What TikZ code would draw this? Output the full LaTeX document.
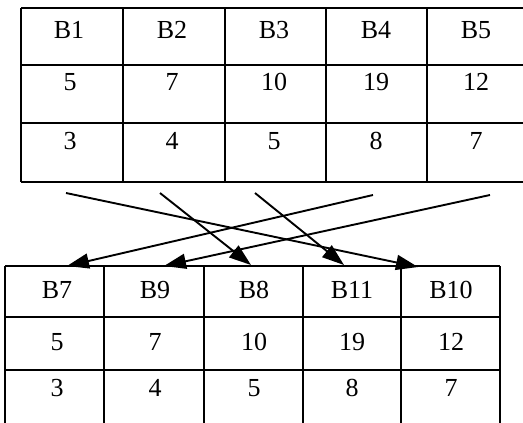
\documentclass[tikz,border=0pt]{standalone}
\usepackage{fontspec}
\setmainfont{Liberation Serif}
\usetikzlibrary{arrows.meta}
\begin{document}
\begin{tikzpicture}[x=1pt,y=-1pt,
  grid/.style={line width=1.3pt,black},
  cell/.style={font=\fontsize{26}{26}\selectfont,inner sep=0pt,anchor=center},
  arr/.style={line width=1.9pt,-{Triangle[length=22pt,width=15pt]}}]
\useasboundingbox (0,0) rectangle (523,423);
% top table
\draw[grid] (21,8) -- (530,8);
\draw[grid] (21,65) -- (530,65);
\draw[grid] (21,123) -- (530,123);
\draw[grid] (21,182) -- (530,182);
\foreach \x in {21,123,225,326,427} \draw[grid] (\x,8) -- (\x,182);
% bottom table
\draw[grid] (5,266) -- (500,266);
\draw[grid] (5,317) -- (500,317);
\draw[grid] (5,370) -- (500,370);
\foreach \x in {5,104,204,303,401,500} \draw[grid] (\x,266) -- (\x,430);
% top texts
\node[cell] (a1) at (69,30) {B1};
\node[cell] (a2) at (172,30) {B2};
\node[cell] (a3) at (274,30) {B3};
\node[cell] (a4) at (376,30) {B4};
\node[cell] (a5) at (476,30) {B5};
\node[cell] (b1) at (70,82) {5};
\node[cell] (b2) at (172,82) {7};
\node[cell] (b3) at (274,82) {10};
\node[cell] (b4) at (376,82) {19};
\node[cell] (b5) at (476,82) {12};
\node[cell] (c1) at (70,141) {3};
\node[cell] (c2) at (172,141) {4};
\node[cell] (c3) at (274,141) {5};
\node[cell] (c4) at (376,141) {8};
\node[cell] (c5) at (476,141) {7};
% bottom texts
\node[cell] (d1) at (57,290) {B7};
\node[cell] (d2) at (155,290) {B9};
\node[cell] (d3) at (254,290) {B8};
\node[cell] (d4) at (352,290) {B11};
\node[cell] (d5) at (451,290) {B10};
\node[cell] (e1) at (57,342) {5};
\node[cell] (e2) at (155,342) {7};
\node[cell] (e3) at (254,342) {10};
\node[cell] (e4) at (352,342) {19};
\node[cell] (e5) at (451,342) {12};
\node[cell] (f1) at (57,388) {3};
\node[cell] (f2) at (155,388) {4};
\node[cell] (f3) at (254,388) {5};
\node[cell] (f4) at (352,388) {8};
\node[cell] (f5) at (451,388) {7};
% arrow ends
\coordinate (s1) at (66,193);
\coordinate (s2) at (160,193);
\coordinate (s3) at (255,193);
\coordinate (s4) at (373,195);
\coordinate (s5) at (490,195);
\coordinate (t7) at (67,266);
\coordinate (t9) at (164,266);
\coordinate (t8) at (251,265);
\coordinate (t11) at (344,265);
\coordinate (t10) at (418,267);
\draw[arr] (s1) -- (t10);
\draw[arr] (s2) -- (t8);
\draw[arr] (s3) -- (t11);
\draw[arr] (s4) -- (t7);
\draw[arr] (s5) -- (t9);
\end{tikzpicture}
\end{document}
